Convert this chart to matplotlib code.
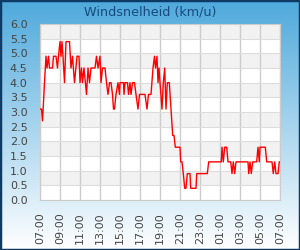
import numpy as np
import matplotlib
matplotlib.use("Agg")
import matplotlib.pyplot as plt
from matplotlib.patches import Rectangle

# hours since 07:00 and wind speed (km/u)
hours = [0.0, 0.15, 0.25, 0.45, 0.6, 0.7, 0.85, 0.95, 1.25, 1.35, 1.6, 1.75,
         1.85, 2.0, 2.1, 2.2, 2.3, 2.45, 2.6, 2.95, 3.1, 3.25, 3.45, 3.7,
         3.9, 4.0, 4.15, 4.25, 4.4, 4.65, 4.8, 4.95, 5.1, 5.5, 5.65, 5.8,
         6.0, 6.1, 6.25, 6.5, 6.65, 6.8, 6.95, 7.1, 7.25, 7.35, 7.45, 7.6,
         7.8, 7.95, 8.0, 8.35, 8.4, 8.5, 8.75, 8.85, 9.0, 9.1, 9.25, 9.45,
         9.6, 9.8, 9.95, 10.5, 10.7, 10.85, 11.1, 11.3, 11.45, 11.55, 11.7,
         11.8, 11.9, 12.0, 12.2, 12.33, 12.47, 12.6, 12.73, 12.93, 13.27,
         13.4, 13.53, 14.0, 14.07, 14.2, 14.33, 14.47, 14.6, 14.73, 15.0,
         15.07, 15.6, 15.67, 16.73, 16.87, 18.13, 18.2, 18.33, 18.47, 18.67,
         18.8, 19.07, 19.2, 19.33, 19.47, 19.6, 20.8, 20.87, 21.0, 21.13,
         21.27, 21.67, 21.8, 21.93, 22.0, 22.53, 22.67, 23.2, 23.33, 23.47,
         23.6, 23.8, 23.93]
speed = [3.1, 3.1, 2.7, 4.0, 4.9, 4.5, 4.9, 4.5, 4.5, 4.9, 4.9, 4.5,
         4.9, 5.4, 4.9, 5.4, 4.9, 4.0, 5.4, 5.4, 4.5, 4.9, 4.0, 4.9,
         4.9, 4.0, 4.5, 4.0, 4.5, 3.6, 4.5, 4.0, 4.5, 4.5, 4.9, 4.5,
         4.9, 4.0, 4.5, 4.5, 4.0, 3.6, 4.0, 4.0, 3.6, 3.1, 3.1, 3.6,
         4.0, 3.6, 4.0, 4.0, 3.6, 4.0, 4.0, 3.6, 4.0, 3.6, 4.0, 4.0,
         3.6, 3.1, 3.6, 3.6, 3.1, 3.6, 3.6, 4.5, 4.9, 4.5, 4.9,
         4.0, 4.5, 4.0, 3.1, 4.0, 4.5, 3.1, 4.0, 4.0, 2.2,
         2.2, 1.8, 1.8, 1.3, 1.3, 0.9, 0.4, 0.4, 0.9, 0.9,
         0.4, 0.4, 0.9, 0.9, 1.3, 1.3, 1.8, 1.3, 1.8, 1.8,
         1.3, 1.3, 0.9, 1.3, 0.9, 1.3, 1.3, 0.9, 1.3, 0.9,
         1.3, 1.3, 1.8, 1.3, 1.8, 1.8, 1.3, 1.3, 0.9, 1.3,
         0.9, 0.9, 1.3]

tick_hours = list(range(0, 25, 2))
tick_labels = ["07:00", "09:00", "11:00", "13:00", "15:00", "17:00", "19:00",
               "21:00", "23:00", "01:00", "03:00", "05:00", "07:00"]
y_ticks = np.arange(0, 6.01, 0.5)

fig = plt.figure(figsize=(3, 2.5), dpi=100)

# background gradient
bg = fig.add_axes([0, 0, 1, 1], zorder=-10)
top = np.array([78, 169, 220]) / 255
bottom = np.array([255, 255, 255]) / 255
t = np.linspace(0, 1, 256)[:, None]
grad = top * (1 - t) + bottom * t
bg.imshow(grad[:, None, :], aspect="auto", extent=[0, 1, 0, 1])
bg.add_patch(Rectangle((0, 0), 1, 1, transform=bg.transAxes, fill=False,
                       edgecolor="#0d3b66", linewidth=2.5))
bg.axis("off")

ax = fig.add_axes([40 / 300, 0.2, 0.8, 0.704])
for i in range(len(y_ticks) - 1):
    col = "#f2f2f2" if i % 2 == 1 else "white"
    ax.axhspan(y_ticks[i], y_ticks[i + 1], color=col, zorder=0, lw=0)

ax.plot(hours, speed, color="red", linewidth=1, zorder=3)

ax.set_xlim(0, 24)
ax.set_ylim(0, 6)
ax.set_xticks(tick_hours)
ax.set_xticklabels(tick_labels, rotation=90)
ax.set_yticks(y_ticks)
ax.set_yticklabels([f"{v:.1f}" for v in y_ticks])
ax.tick_params(length=0, labelsize=8, labelcolor="#444444")
ax.tick_params(axis="y", pad=9)
ax.tick_params(axis="x", pad=9)
ax.grid(True, axis="x", color="#cccccc", linewidth=1, zorder=1)
ax.grid(True, axis="y", color="#dddddd", linewidth=0.8, zorder=1)
ax.set_axisbelow(True)
for s in ax.spines.values():
    s.set_color("#cccccc")

fig.text(0.5, 0.952, "Windsnelheid (km/u)", ha="center", va="center",
         fontsize=9.2, color="#174a7c")

plt.savefig("out.png", dpi=100)
